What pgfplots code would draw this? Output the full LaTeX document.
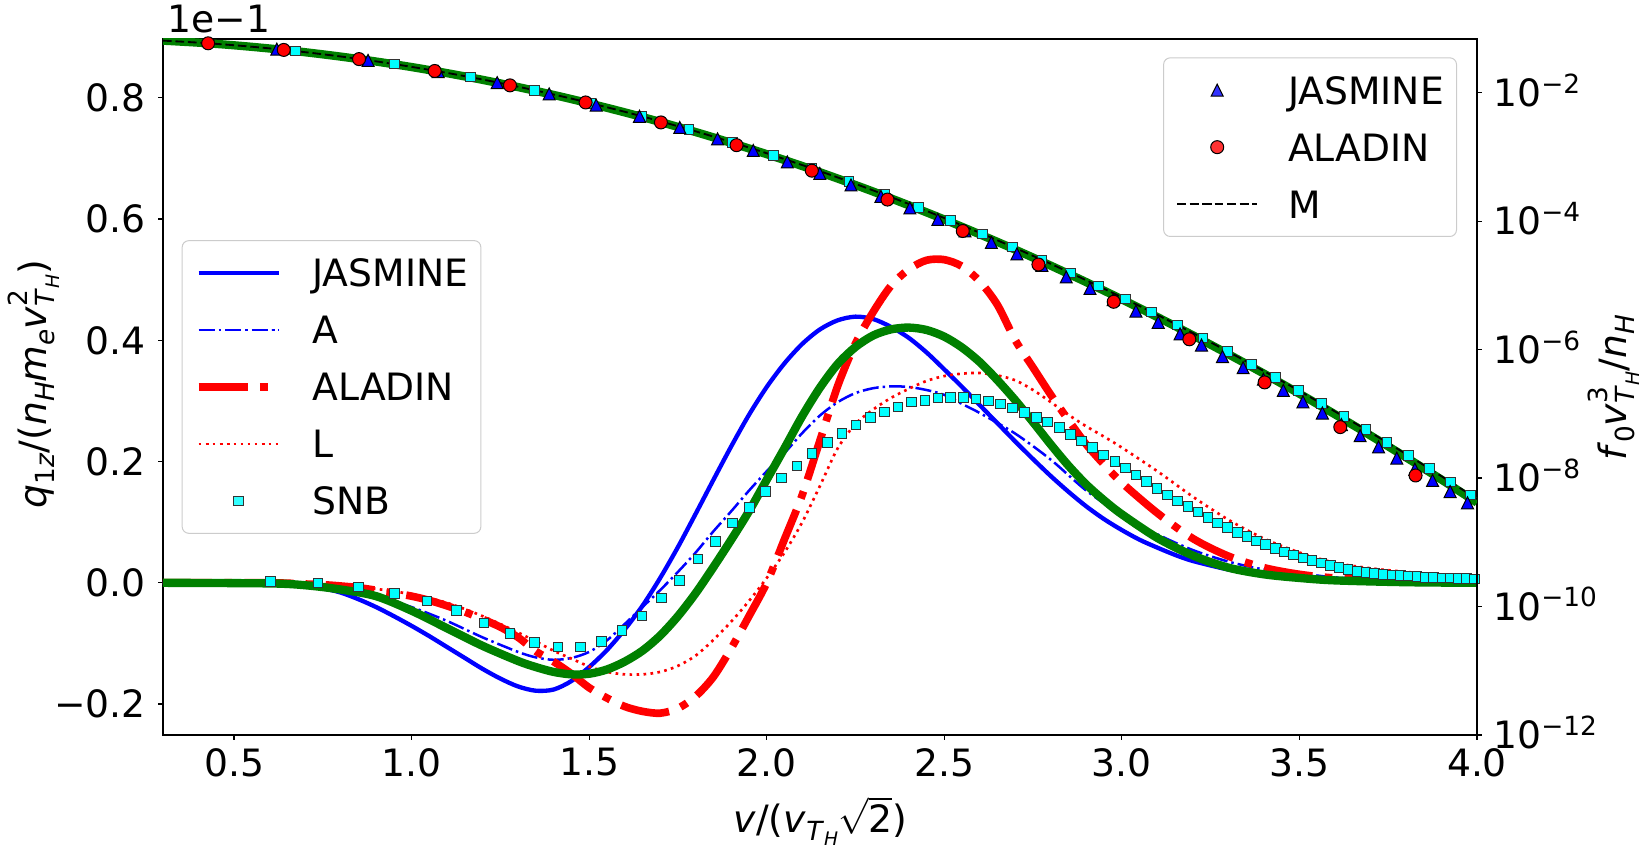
\documentclass[border=0pt]{standalone}
\usepackage{fontspec}
\setmainfont{DejaVu Sans}
\usepackage{pgfplots}
\pgfplotsset{compat=1.18}
\definecolor{mgreen}{RGB}{0,128,0}
\definecolor{mcyan}{RGB}{0,255,255}
\pgfdeclareplotmark{mtri}{%
  \pgfpathmoveto{\pgfqpoint{0pt}{\pgfplotmarksize}}%
  \pgfpathlineto{\pgfqpoint{-\pgfplotmarksize}{-\pgfplotmarksize}}%
  \pgfpathlineto{\pgfqpoint{\pgfplotmarksize}{-\pgfplotmarksize}}%
  \pgfpathclose
  \pgfusepathqfillstroke}
\newcommand{\fs}{\fontsize{11.3bp}{13.5bp}\selectfont}
\newcommand{\mi}[1]{\textit{#1}}
\newcommand{\sps}[1]{\raisebox{0.5em}{\fontsize{7.9bp}{9bp}\selectfont #1}}
\newcommand{\sbs}[1]{\raisebox{-0.22em}{\fontsize{7.9bp}{9bp}\selectfont #1}}
\newcommand{\sbsb}[1]{\raisebox{-0.2em}{\fontsize{5.6bp}{6.5bp}\selectfont #1}}
\newcommand{\vTH}{\sbs{\mi{T}\sbsb{\mi{H}}}}
\pgfplotsset{
  myaxis/.style={
    at={(0,0)}, anchor=south west, scale only axis,
    width=394.2bp, height=208.8bp,
    xmin=0.3, xmax=4.0,
    tick align=outside,
    major tick length=1.4bp,
    every tick/.style={black, line width=0.35bp},
    axis line style={line width=0.4bp},
    minor tick num=0,
    tick label style={font=\fs},
    legend style={font=\fs, draw=black!20, line width=0.3bp, rounded corners=2bp,
      fill=white, fill opacity=0.8, draw opacity=1, text opacity=1,
      inner xsep=3.8bp, inner ysep=5.5bp, row sep=8.7bp, column sep=9bp,
      nodes={inner sep=0pt, text height=8.4bp, text depth=0bp}},
    legend cell align=left,
    legend image code/.code={\draw[mark repeat=2,mark phase=2,##1] plot coordinates {(0bp,0bp) (12bp,0bp) (24bp,0bp)};},
  }
}
\begin{document}
\begin{tikzpicture}
\useasboundingbox (-48.9bp,-33.3bp) rectangle (444.6bp,220.5bp);
% ---------------- left axis: q1z ----------------
\begin{axis}[myaxis, ymin=-0.251, ymax=0.897,
  xtick={0.5,1.0,1.5,2.0,2.5,3.0,3.5,4.0},
  xticklabels={0.5,1.0,1.5,2.0,2.5,3.0,3.5,4.0},
  ytick={-0.2,0,0.2,0.4,0.6,0.8},
  yticklabels={−0.2,0.0,0.2,0.4,0.6,0.8},
  xtick pos=bottom, ytick pos=left,
  xticklabel style={anchor=north, inner sep=0pt, yshift=-2.4bp},
  yticklabel style={anchor=east, inner sep=0pt, xshift=-3.6bp},
  legend style={at={(0,0.5)}, anchor=west, xshift=5.6bp}]
\addplot[blue, line width=1.3bp, smooth] coordinates {
(0.3,0)(0.5,0)(0.6,-0.001)(0.7,-0.004)(0.75,-0.009)(0.8,-0.016)(0.85,-0.027)(0.9,-0.040)(0.95,-0.055)(1.0,-0.071)(1.05,-0.088)(1.1,-0.106)(1.15,-0.124)(1.2,-0.142)(1.25,-0.158)(1.3,-0.171)(1.35,-0.178)(1.4,-0.176)(1.45,-0.162)(1.5,-0.139)(1.55,-0.111)(1.6,-0.077)(1.65,-0.038)(1.7,0.008)(1.75,0.059)(1.8,0.114)(1.85,0.170)(1.9,0.225)(1.95,0.277)(2.0,0.323)(2.05,0.362)(2.1,0.394)(2.15,0.418)(2.2,0.433)(2.25,0.439)(2.3,0.435)(2.35,0.422)(2.4,0.404)(2.45,0.380)(2.5,0.352)(2.55,0.323)(2.6,0.293)(2.65,0.263)(2.7,0.233)(2.75,0.204)(2.8,0.176)(2.85,0.150)(2.9,0.126)(2.95,0.105)(3.0,0.087)(3.05,0.071)(3.1,0.058)(3.15,0.046)(3.2,0.036)(3.3,0.022)(3.4,0.014)(3.5,0.009)(3.6,0.006)(3.8,0.003)(4.0,0.002)};
\addlegendentry{JASMINE}
\addplot[blue, line width=0.75bp, smooth, dash pattern=on 4.8bp off 1.2bp on 0.75bp off 1.2bp] coordinates {
(0.3,0)(0.5,0)(0.6,-0.001)(0.7,-0.003)(0.8,-0.010)(0.9,-0.022)(1.0,-0.040)(1.1,-0.063)(1.2,-0.090)(1.3,-0.114)(1.35,-0.123)(1.4,-0.127)(1.45,-0.124)(1.5,-0.114)(1.55,-0.095)(1.6,-0.068)(1.65,-0.040)(1.7,-0.012)(1.75,0.018)(1.8,0.050)(1.85,0.085)(1.9,0.118)(1.95,0.152)(2.0,0.184)(2.05,0.214)(2.1,0.247)(2.15,0.276)(2.2,0.298)(2.25,0.313)(2.3,0.321)(2.35,0.324)(2.4,0.323)(2.45,0.318)(2.5,0.310)(2.55,0.295)(2.6,0.280)(2.7,0.246)(2.8,0.203)(2.9,0.152)(3.0,0.112)(3.1,0.080)(3.2,0.054)(3.3,0.035)(3.4,0.022)(3.5,0.016)(3.6,0.009)(3.8,0.004)(4.0,0.002)};
\addlegendentry{A}
\addplot[red, line width=2.3bp, smooth, dash pattern=on 14.7bp off 3.7bp on 2.3bp off 3.7bp] coordinates {
(0.3,0)(0.6,0)(0.7,-0.002)(0.75,-0.003)(0.85,-0.008)(0.95,-0.017)(1.0,-0.022)(1.05,-0.029)(1.1,-0.038)(1.15,-0.048)(1.2,-0.060)(1.25,-0.073)(1.3,-0.090)(1.35,-0.113)(1.4,-0.130)(1.45,-0.150)(1.5,-0.173)(1.55,-0.190)(1.6,-0.204)(1.65,-0.212)(1.7,-0.215)(1.75,-0.207)(1.8,-0.187)(1.85,-0.155)(1.9,-0.108)(1.95,-0.055)(2.0,0.0)(2.05,0.072)(2.1,0.145)(2.15,0.235)(2.2,0.325)(2.25,0.395)(2.3,0.447)(2.35,0.490)(2.4,0.517)(2.45,0.532)(2.5,0.533)(2.55,0.522)(2.6,0.497)(2.65,0.458)(2.7,0.400)(2.75,0.355)(2.8,0.310)(2.85,0.268)(2.9,0.228)(2.95,0.195)(3.0,0.165)(3.1,0.115)(3.2,0.073)(3.3,0.044)(3.4,0.025)(3.5,0.014)(3.6,0.008)(3.8,0.003)(4.0,0.001)};
\addlegendentry{ALADIN}
\addplot[red, line width=0.8bp, smooth, dash pattern=on 0.8bp off 1.3bp] coordinates {
(0.3,0)(0.6,0)(0.7,-0.001)(0.8,-0.004)(0.9,-0.010)(1.0,-0.019)(1.1,-0.033)(1.2,-0.055)(1.3,-0.082)(1.4,-0.112)(1.45,-0.125)(1.5,-0.138)(1.55,-0.147)(1.6,-0.151)(1.65,-0.151)(1.7,-0.147)(1.75,-0.137)(1.8,-0.120)(1.85,-0.094)(1.9,-0.064)(1.95,-0.030)(2.0,0.008)(2.05,0.050)(2.1,0.100)(2.15,0.160)(2.2,0.222)(2.25,0.262)(2.3,0.286)(2.35,0.305)(2.4,0.320)(2.45,0.333)(2.5,0.341)(2.55,0.345)(2.6,0.346)(2.65,0.342)(2.7,0.334)(2.75,0.318)(2.8,0.298)(2.85,0.277)(2.9,0.258)(2.95,0.241)(3.0,0.223)(3.1,0.184)(3.2,0.142)(3.3,0.104)(3.4,0.073)(3.5,0.050)(3.6,0.033)(3.7,0.024)(3.8,0.018)(3.9,0.013)(4.0,0.010)};
\addlegendentry{L}
\addplot[mgreen, line width=2.5bp, smooth, forget plot] coordinates {
(0.3,0)(0.6,-0.001)(0.7,-0.004)(0.8,-0.011)(0.9,-0.022)(1.0,-0.046)(1.1,-0.075)(1.2,-0.104)(1.3,-0.129)(1.35,-0.139)(1.4,-0.147)(1.45,-0.151)(1.5,-0.150)(1.55,-0.143)(1.6,-0.130)(1.65,-0.112)(1.7,-0.087)(1.75,-0.055)(1.8,-0.017)(1.85,0.026)(1.9,0.071)(1.95,0.118)(2.0,0.170)(2.05,0.222)(2.1,0.275)(2.15,0.322)(2.2,0.361)(2.25,0.389)(2.3,0.408)(2.35,0.418)(2.4,0.421)(2.45,0.417)(2.5,0.406)(2.55,0.388)(2.6,0.364)(2.65,0.334)(2.7,0.301)(2.75,0.265)(2.8,0.228)(2.85,0.193)(2.9,0.162)(2.95,0.136)(3.0,0.113)(3.1,0.074)(3.2,0.045)(3.3,0.025)(3.4,0.014)(3.5,0.008)(3.6,0.004)(3.8,0.001)(4.0,0.0)};
\addplot[only marks, mark=square*, mark size=1.43bp, mark options={draw=black!80, fill=mcyan, line width=0.3bp}] coordinates {
(0.602,0.002)(0.737,0.0)(0.851,-0.007)(0.952,-0.018)(1.043,-0.030)(1.126,-0.046)(1.204,-0.066)(1.277,-0.084)(1.346,-0.098)(1.412,-0.106)(1.475,-0.106)(1.535,-0.097)(1.593,-0.079)(1.649,-0.055)(1.703,-0.025)(1.755,0.004)(1.806,0.039)(1.856,0.068)(1.904,0.099)(1.951,0.124)(1.997,0.151)(2.042,0.173)(2.085,0.193)(2.128,0.213)(2.171,0.231)(2.212,0.246)(2.252,0.260)(2.292,0.273)(2.332,0.282)(2.370,0.290)(2.408,0.298)(2.445,0.301)(2.482,0.305)(2.518,0.306)(2.554,0.306)(2.589,0.303)(2.624,0.300)(2.658,0.295)(2.692,0.288)(2.726,0.281)(2.759,0.273)(2.791,0.265)(2.824,0.256)(2.856,0.245)(2.887,0.234)(2.918,0.223)(2.949,0.211)(2.980,0.200)(3.010,0.189)(3.040,0.178)(3.070,0.167)(3.099,0.156)(3.128,0.145)(3.157,0.135)(3.186,0.126)(3.214,0.117)(3.242,0.108)(3.270,0.099)(3.297,0.091)(3.325,0.083)(3.352,0.076)(3.379,0.069)(3.405,0.063)(3.432,0.057)(3.458,0.051)(3.484,0.046)(3.510,0.041)(3.536,0.037)(3.562,0.033)(3.587,0.029)(3.612,0.025)(3.637,0.022)(3.662,0.019)(3.687,0.017)(3.711,0.015)(3.735,0.014)(3.760,0.013)(3.784,0.012)(3.807,0.011)(3.831,0.010)(3.855,0.009)(3.878,0.0085)(3.901,0.008)(3.925,0.0077)(3.948,0.0074)(3.971,0.0068)(3.993,0.0066)};
\addlegendentry{SNB}
\end{axis}
% ---------------- right axis: log10 of f0 ----------------
\begin{axis}[myaxis, ymin=-12, ymax=-1.165,
  axis y line*=right, axis x line=none,
  ytick={-12,-10,-8,-6,-4,-2},
  yticklabels={10\textsuperscript{−12},10\textsuperscript{−10},10\textsuperscript{−8},10\textsuperscript{−6},10\textsuperscript{−4},10\textsuperscript{−2}},
  yticklabel style={anchor=base west, inner sep=0pt, xshift=3.3bp, yshift=-4.1bp},
  legend style={at={(1,1)}, anchor=north east, xshift=-6bp, yshift=-5.5bp}]
\addplot[mgreen, line width=2.5bp, smooth, forget plot] coordinates {
(0.3,-1.191)(0.4,-1.222)(0.5,-1.263)(0.6,-1.313)(0.7,-1.371)(0.8,-1.439)(0.9,-1.516)(1.0,-1.602)(1.1,-1.697)(1.2,-1.801)(1.3,-1.914)(1.4,-2.036)(1.5,-2.167)(1.6,-2.307)(1.7,-2.456)(1.8,-2.614)(1.9,-2.782)(2.0,-2.958)(2.1,-3.143)(2.2,-3.338)(2.3,-3.541)(2.4,-3.754)(2.5,-3.975)(2.6,-4.206)(2.7,-4.445)(2.8,-4.694)(2.9,-4.951)(3.0,-5.218)(3.1,-5.494)(3.2,-5.778)(3.3,-6.072)(3.4,-6.375)(3.5,-6.687)(3.6,-7.008)(3.7,-7.338)(3.8,-7.677)(3.9,-8.025)(4.0,-8.382)};
\addplot[only marks, forget plot, mark=square*, mark size=1.43bp, mark options={draw=black!80, fill=mcyan, line width=0.3bp}] coordinates {
(0.673,-1.353)(0.952,-1.556)(1.166,-1.760)(1.346,-1.963)(1.505,-2.166)(1.649,-2.369)(1.781,-2.572)(1.904,-2.775)(2.019,-2.979)(2.128,-3.182)(2.232,-3.385)(2.332,-3.588)(2.427,-3.791)(2.518,-3.994)(2.607,-4.198)(2.692,-4.401)(2.775,-4.604)(2.855,-4.807)(2.934,-5.010)(3.010,-5.213)(3.084,-5.417)(3.157,-5.620)(3.228,-5.823)(3.297,-6.026)(3.365,-6.229)(3.432,-6.432)(3.497,-6.636)(3.562,-6.839)(3.625,-7.042)(3.687,-7.245)(3.747,-7.448)(3.807,-7.651)(3.866,-7.855)(3.925,-8.058)(3.982,-8.261)};
\addplot[only marks, mark=mtri, mark size=1.8bp, mark options={draw=black, fill=blue, line width=0.3bp}] coordinates {
(0.6205,-1.324)(0.8775,-1.498)(1.0747,-1.672)(1.2410,-1.846)(1.3874,-2.020)(1.5199,-2.194)(1.6416,-2.368)(1.7550,-2.542)(1.8615,-2.721)(1.9621,-2.900)(2.0580,-3.079)(2.1494,-3.258)(2.2372,-3.437)(2.3216,-3.616)(2.4031,-3.795)(2.4819,-3.974)(2.5583,-4.153)(2.6325,-4.332)(2.7046,-4.511)(2.7749,-4.690)(2.8434,-4.869)(2.9103,-5.048)(2.9757,-5.222)(3.0397,-5.401)(3.1024,-5.576)(3.1639,-5.755)(3.2241,-5.929)(3.2833,-6.108)(3.3414,-6.282)(3.3985,-6.461)(3.4546,-6.635)(3.5100,-6.814)(3.5645,-6.988)(3.6180,-7.167)(3.6708,-7.341)(3.7229,-7.515)(3.7742,-7.689)(3.8249,-7.863)(3.8749,-8.037)(3.9243,-8.211)(3.9731,-8.385)};
\addlegendentry{JASMINE}
\addplot[only marks, mark=*, mark size=1.95bp, mark options={draw=black, fill=red, line width=0.3bp}] coordinates {
(0.427,-1.232)(0.640,-1.335)(0.852,-1.478)(1.065,-1.663)(1.277,-1.887)(1.490,-2.153)(1.702,-2.464)(1.915,-2.818)(2.127,-3.215)(2.340,-3.665)(2.552,-4.154)(2.765,-4.676)(2.977,-5.256)(3.190,-5.840)(3.402,-6.511)(3.615,-7.207)(3.827,-7.960)};
\addlegendentry{ALADIN}
\addplot[black, line width=0.55bp, smooth, dash pattern=on 2.6bp off 1.15bp] coordinates {
(0.3,-1.190)(0.4,-1.222)(0.5,-1.262)(0.6,-1.311)(0.7,-1.370)(0.8,-1.437)(0.9,-1.513)(1.0,-1.599)(1.1,-1.693)(1.2,-1.796)(1.3,-1.908)(1.4,-2.029)(1.5,-2.159)(1.6,-2.298)(1.7,-2.446)(1.8,-2.603)(1.9,-2.769)(2.0,-2.944)(2.1,-3.128)(2.2,-3.321)(2.3,-3.523)(2.4,-3.733)(2.5,-3.953)(2.6,-4.182)(2.7,-4.420)(2.8,-4.666)(2.9,-4.922)(3.0,-5.187)(3.1,-5.460)(3.2,-5.743)(3.3,-6.034)(3.4,-6.335)(3.5,-6.644)(3.6,-6.963)(3.7,-7.290)(3.8,-7.626)(3.9,-7.972)(4.0,-8.326)};
\addlegendentry{M}
\end{axis}
% ---------------- labels ----------------
\node[rotate=90, font=\fs, inner sep=0pt] at (-38.7bp,105.3bp)
  {\mi{q}\sbs{1\mi{z}}/(\mi{n}\sbs{\mi{H}}\mi{m}\sbs{\mi{e}}\mi{v}\makebox[0pt][l]{\sps{2}}\vTH)};
\node[rotate=90, font=\fs, inner sep=0pt] at (435.3bp,104.1bp)
  {\mi{f}\sbs{0}\mi{v}\makebox[0pt][l]{\sps{3}}\vTH/\mi{n}\sbs{\mi{H}}};
\node[anchor=base, font=\fs, inner sep=0pt] at (197.2bp,-29.1bp)
  {\mi{v}/(\mi{v}\vTH$\sqrt{\mbox{2}}$)};
\node[anchor=base west, font=\fs, inner sep=0pt] at (1.2bp,210.6bp) {1e−1};
\end{tikzpicture}
\end{document}
